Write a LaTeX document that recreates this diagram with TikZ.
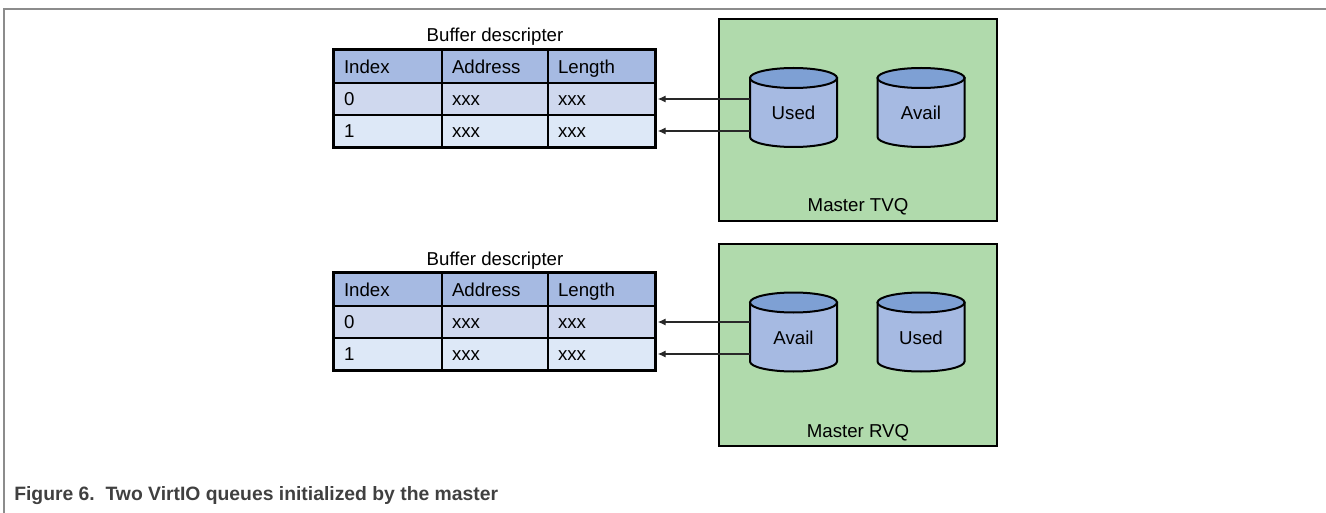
\documentclass[tikz,border=0pt]{standalone}
\usepackage{fontspec}
\setmainfont{Liberation Sans}
\usetikzlibrary{arrows.meta}

\definecolor{hdrblue}{RGB}{166,186,226}
\definecolor{rowa}{RGB}{207,216,238}
\definecolor{rowb}{RGB}{221,232,247}
\definecolor{cylbody}{RGB}{166,186,226}
\definecolor{cyltop}{RGB}{126,160,212}
\definecolor{qgreen}{RGB}{176,218,172}
\definecolor{framegray}{RGB}{140,140,140}
\definecolor{capgray}{RGB}{64,64,64}
\definecolor{arrgray}{RGB}{40,40,40}

% one table cell: #1 width in px, #2 height in px
\tikzset{
  txt/.style={font=\fontsize{14}{16}\selectfont},
  cell/.style 2 args={draw=black, line width=1.1pt, inner ysep=0pt, inner xsep=7.5pt,
    minimum width=#1*0.75pt, minimum height=#2*0.75pt,
    text width=#1*0.75pt-15pt, align=left, anchor=center,
    text height=10pt, text depth=0pt, txt},
  lbl/.style={inner sep=0pt, txt},
  qbox/.style={draw=black, line width=1.8pt, fill=qgreen, inner sep=0pt,
    minimum width=208.5pt, minimum height=151.5pt},
  drumarea/.style={inner sep=0pt, outer sep=0pt, minimum width=65.25pt, minimum height=59.25pt},
  drumline/.style={draw=black, line width=1.5pt},
  arr/.style={draw=arrgray, line width=1pt, -{Latex[length=6pt,width=5.5pt]}, shorten >=1.5pt},
  caption/.style={inner sep=0pt, text=capgray, font=\fontsize{14.5}{17}\selectfont\bfseries},
}

% buffer descriptor table: #1 prefix, #2 top edge (px)
\newcommand\bufdesc[2]{%
  \node[lbl, anchor=base] (#1-title) at (495,#2-8) {Buffer descripter};
  \node[cell={108}{33}, fill=hdrblue] (#1-h0) at (388,#2+16.5) {Index};
  \node[cell={106}{33}, fill=hdrblue] (#1-h1) at (495,#2+16.5) {Address};
  \node[cell={107}{33}, fill=hdrblue] (#1-h2) at (601.5,#2+16.5) {Length};
  \node[cell={108}{32}, fill=rowa] (#1-a0) at (388,#2+49) {0};
  \node[cell={106}{32}, fill=rowa] (#1-a1) at (495,#2+49) {xxx};
  \node[cell={107}{32}, fill=rowa] (#1-a2) at (601.5,#2+49) {xxx};
  \node[cell={108}{32}, fill=rowb] (#1-b0) at (388,#2+81) {1};
  \node[cell={106}{32}, fill=rowb] (#1-b1) at (495,#2+81) {xxx};
  \node[cell={107}{32}, fill=rowb] (#1-b2) at (601.5,#2+81) {xxx};
  \draw[line width=1.6pt] (#1-h0.north west) rectangle (#1-b2.south east);
}

% ring drawn as a drum: #1 name, #2 x, #3 y (centre, px), #4 text
\newcommand\drum[4]{%
  \node[drumarea] (#1) at (#2,#3) {};
  \filldraw[drumline, fill=cylbody]
    ([yshift=-7.5pt]#1.north west) -- ([yshift=7.5pt]#1.south west)
    arc[start angle=180, end angle=360, x radius=32.625pt, y radius=7.5pt]
    -- ([yshift=-7.5pt]#1.north east) -- cycle;
  \filldraw[drumline, fill=cyltop] ([yshift=-7.5pt]#1.north) ellipse[x radius=32.625pt, y radius=7.5pt];
  \node[lbl, text height=10pt, text depth=0pt] (#1-t) at ([yshift=-4.35pt]#1.center) {#4};
}

\begin{document}
\begin{tikzpicture}[x=0.75pt, y=-0.75pt]
  \useasboundingbox (0,0) rectangle (1326,513);

  % page frame
  \draw[framegray, line width=1.2pt] (4,513) -- (4,9) -- (1326,9);

  % transmit queue
  \bufdesc{ta}{50}
  \node[qbox] (tvq) at (858,120) {};
  \node[lbl, anchor=base] (tvq-name) at (858,212) {Master TVQ};
  \drum{tused}{793.5}{107.5}{Used}
  \drum{tavail}{921}{107.5}{Avail}
  \draw[arr] (tused.west |- ta-a2.east) -- (ta-a2.east);
  \draw[arr] (tused.west |- ta-b2.east) -- (ta-b2.east);

  % receive queue
  \bufdesc{rb}{273}
  \node[qbox] (rvq) at (858,345) {};
  \node[lbl, anchor=base] (rvq-name) at (858,437) {Master RVQ};
  \drum{ravail}{793.5}{332}{Avail}
  \drum{rused}{921}{332}{Used}
  \draw[arr] (ravail.west |- rb-a2.east) -- (rb-a2.east);
  \draw[arr] (ravail.west |- rb-b2.east) -- (rb-b2.east);

  \node[caption, anchor=base west] (cap) at (14,500) {Figure 6.\ \ Two VirtIO queues initialized by the master};
\end{tikzpicture}
\end{document}
